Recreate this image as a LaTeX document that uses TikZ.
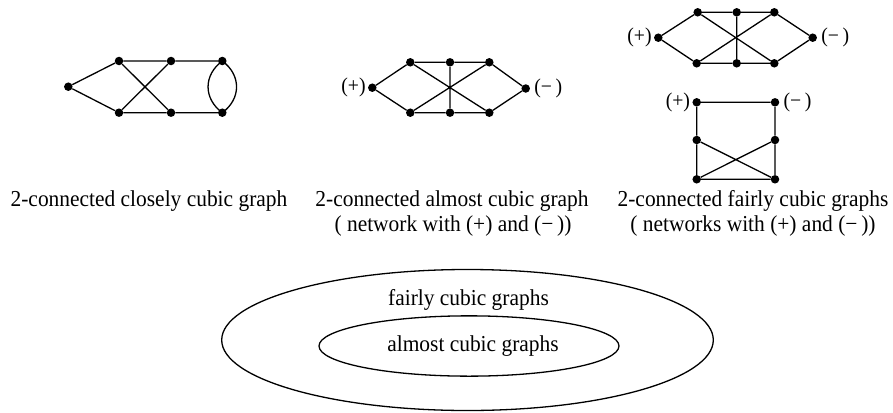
\documentclass[tikz,border=0pt]{standalone}
\usepackage{fontspec}
\setmainfont[FakeStretch=0.94]{Liberation Serif}
\usetikzlibrary{positioning,shapes.geometric}
\tikzset{
  vtx/.style={circle,fill=black,inner sep=0pt,minimum size=8.5pt},
  edge/.style={line width=1.3pt},
  lab/.style={inner sep=0pt,font=\fontsize{21}{25}\selectfont},
  captxt/.style={inner sep=0pt,anchor=base,font=\fontsize{22.8}{27}\selectfont},
  setell/.style={ellipse,draw,line width=1.3pt,inner sep=0pt}
}
\begin{document}
\begin{tikzpicture}[x=1pt,y=-1pt]
\useasboundingbox (0,0) rectangle (893,412);
% graph 1
\node[vtx] (aL) at (68.3,86.7) {};
\node[vtx] (at1) at (119,61) {};
\node[vtx] (at2) at (171,61) {};
\node[vtx] (at3) at (222.3,61) {};
\node[vtx] (ab1) at (119,112.7) {};
\node[vtx] (ab2) at (171,112.7) {};
\node[vtx] (ab3) at (222.3,112.7) {};
\draw[edge] (aL)--(at1) (aL)--(ab1) (at1)--(at2)--(at3) (ab1)--(ab2)--(ab3)
  (at1)--(ab2) (at2)--(ab1);
\draw[edge] (at3.center) .. controls +(-19,14) and +(-19,-14) .. (ab3.center);
\draw[edge] (at3.center) .. controls +(19,14) and +(19,-14) .. (ab3.center);
% graph 2
\node[vtx] (bL) at (372.3,87.7) {};
\node[vtx] (bt1) at (410.3,62.3) {};
\node[vtx] (bt2) at (450,62.3) {};
\node[vtx] (bt3) at (489.3,62.3) {};
\node[vtx] (bb1) at (410.3,112.7) {};
\node[vtx] (bb2) at (450,112.7) {};
\node[vtx] (bb3) at (489.3,112.7) {};
\node[vtx] (bR) at (525.7,88.5) {};
\draw[edge] (bL)--(bt1) (bL)--(bb1) (bt1)--(bt2)--(bt3) (bb1)--(bb2)--(bb3)
  (bt2)--(bb2) (bt1)--(bb3) (bb1)--(bt3) (bt3)--(bR) (bb3)--(bR);
\node[lab,left=2pt of bL] (bplus) {(+)};
\node[lab,right=4pt of bR] (bminus) {(−\,)};
% graph 3 top
\node[vtx] (cL) at (658.3,37.7) {};
\node[vtx] (ct1) at (697.7,12.3) {};
\node[vtx] (ct2) at (736.7,12.3) {};
\node[vtx] (ct3) at (774.3,12.3) {};
\node[vtx] (cb1) at (696.7,63.3) {};
\node[vtx] (cb2) at (736.7,63.3) {};
\node[vtx] (cb3) at (774.3,63.3) {};
\node[vtx] (cR) at (812.7,37.7) {};
\draw[edge] (cL)--(ct1) (cL)--(cb1) (ct1)--(ct2)--(ct3) (cb1)--(cb2)--(cb3)
  (ct2)--(cb2) (ct1)--(cb3) (cb1)--(ct3) (ct3)--(cR) (cb3)--(cR);
\node[lab,left=2pt of cL] (cplus) {(+)};
\node[lab,right=4pt of cR] (cminus) {(−\,)};
% graph 3 square
\node[vtx] (dtl) at (696.7,102.3) {};
\node[vtx] (dtr) at (775,102.3) {};
\node[vtx] (dml) at (696.7,140) {};
\node[vtx] (dmr) at (775,140) {};
\node[vtx] (dbl) at (696.7,179.3) {};
\node[vtx] (dbr) at (775,179.3) {};
\draw[edge] (dtl)--(dtr) (dtl)--(dml)--(dbl)--(dbr)--(dmr)--(dtr)
  (dml)--(dbr) (dmr)--(dbl);
\node[lab,left=2pt of dtl] (dplus) {(+)};
\node[lab,right=4pt of dtr] (dminus) {(−\,)};
% captions
\node[captxt] (cap1) at (149,206) {2-connected closely cubic graph};
\node[captxt] (cap2a) at (452,206) {2-connected almost cubic graph};
\node[captxt] (cap2b) at (453,231) {( network with (+) and (−\,))};
\node[captxt] (cap3a) at (753,206) {2-connected fairly cubic graphs};
\node[captxt] (cap3b) at (753,231) {( networks with (+) and (−\,))};
% ellipses
\node[setell,minimum width=491.6pt,minimum height=141pt] (outer) at (467.5,340) {};
\node[setell,minimum width=300pt,minimum height=60.3pt] (inner) at (469,346) {};
\node[captxt] (tfair) at (468.5,305) {fairly cubic graphs};
\node[captxt] (talm) at (473,351) {almost cubic graphs};
\end{tikzpicture}
\end{document}
